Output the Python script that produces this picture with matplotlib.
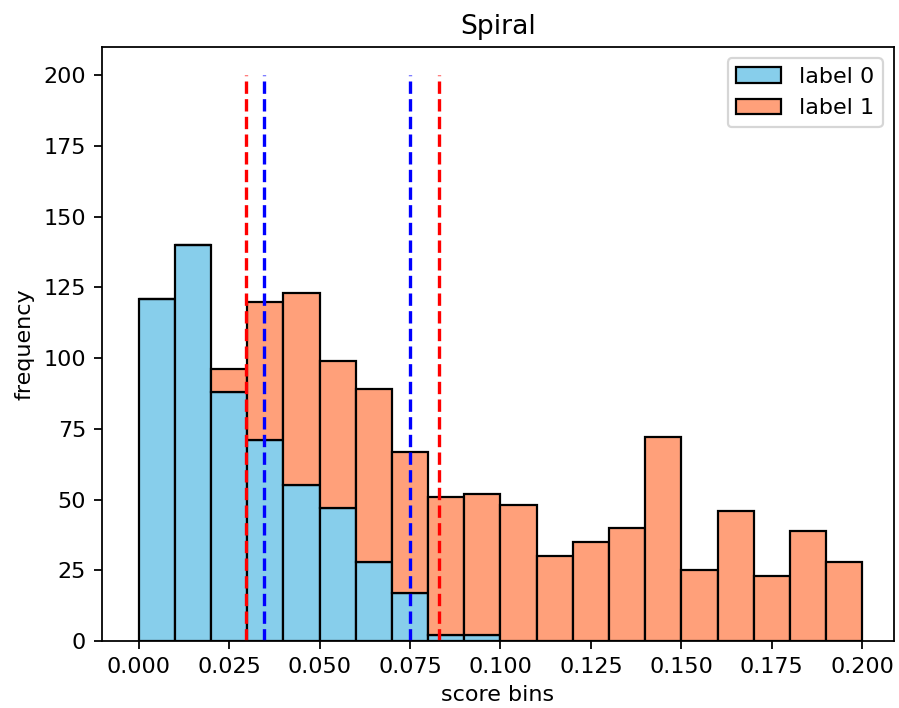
import numpy as np
import matplotlib
matplotlib.use("Agg")
import matplotlib.pyplot as plt

# histogram bins (score), width 0.01 from 0 to 0.2
bin_edges = [round(i * 0.01, 2) for i in range(21)]
label0_counts = [121, 140, 88, 71, 55, 47, 28, 17, 2, 2, 0, 0, 0, 0, 0, 0, 0, 0, 0, 0]
label1_counts = [0, 0, 8, 49, 68, 52, 61, 50, 49, 50, 48, 30, 35, 40, 72, 25, 46, 23, 39, 28]

# threshold lines
red_lines = [0.0296, 0.0829]
blue_lines = [0.0345, 0.0749]
line_top = 200

DPI = 160
fig = plt.figure(figsize=(899 / DPI, 708 / DPI), dpi=DPI)
ax = fig.add_axes([0.1131, 0.0946, 0.8813, 0.839])

left = np.array(bin_edges[:-1])
widths = np.diff(bin_edges)
ax.bar(left, label0_counts, width=widths, align='edge', color='skyblue',
       edgecolor='black', linewidth=1, label='label 0')
ax.bar(left, label1_counts, width=widths, bottom=label0_counts, align='edge',
       color='lightsalmon', edgecolor='black', linewidth=1, label='label 1')

ax.vlines(red_lines, 0, line_top, colors='red', linestyles='--')
ax.vlines(blue_lines, 0, line_top, colors='blue', linestyles='--')

ax.set_xlim(-0.01023, 0.20876)
ax.set_ylim(0, 210)
ax.set_xticks(np.arange(0, 0.2001, 0.025))
ax.set_xticklabels([f"{v:.3f}" for v in np.arange(0, 0.2001, 0.025)])
ax.set_xlabel('score bins')
ax.set_ylabel('frequency')
ax.set_title('Spiral')
ax.legend()

fig.savefig('out.png', dpi=DPI)
